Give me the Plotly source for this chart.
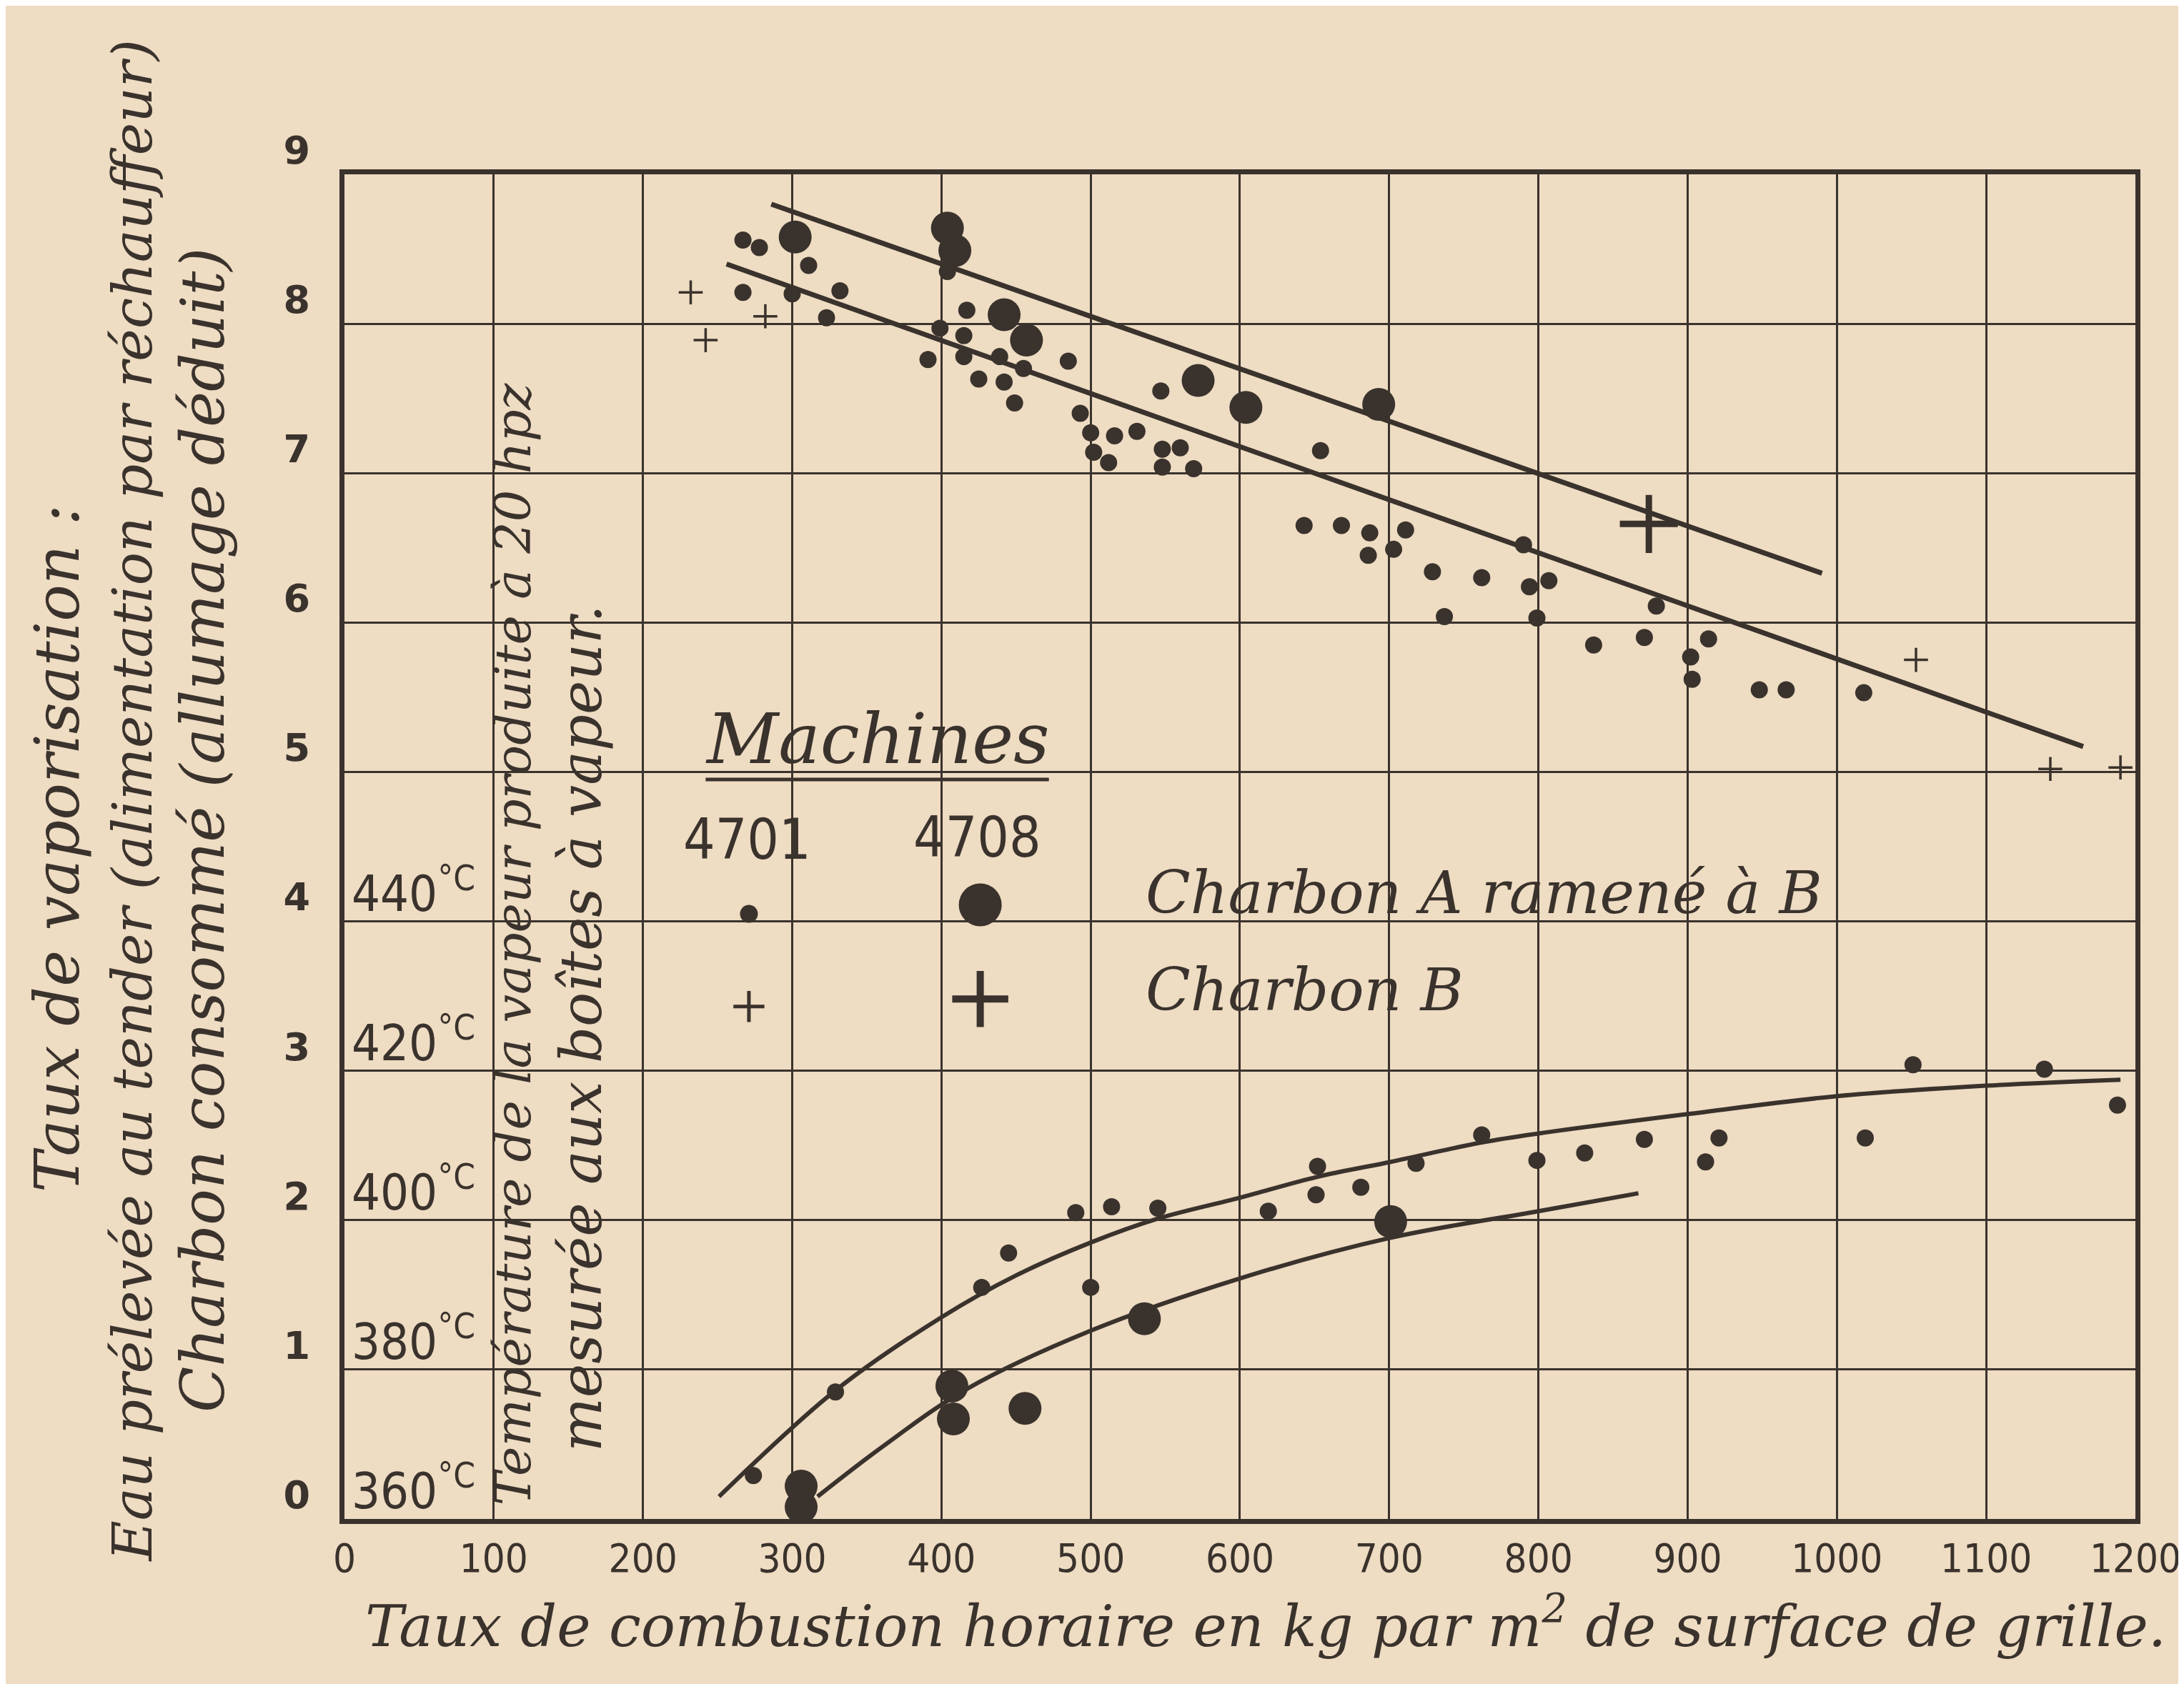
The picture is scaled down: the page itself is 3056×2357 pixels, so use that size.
import plotly.graph_objects as go

# ------------------------------------------------------------------
# DATA
# x : taux de combustion horaire (kg / m2 de grille)
# ------------------------------------------------------------------
x_tick_vals = [0, 100, 200, 300, 400, 500, 600, 700, 800, 900, 1000, 1100, 1200]
y_tick_vals = [0, 1, 2, 3, 4, 5, 6, 7, 8, 9]
temp_tick_vals = [360, 380, 400, 420, 440]

# Taux de vaporisation - machine 4701, charbon A ramené à B (small dots)
vap_4701_A_x = [267, 278, 311, 267, 300, 332, 323, 404, 417, 399, 415, 391, 415, 439,
                425, 442, 449, 455, 485, 493, 500, 502, 512, 516, 531, 548, 560, 548,
                569, 547, 654, 643, 668, 687, 686, 703, 711, 729, 762, 790, 794, 807,
                737, 799, 879, 837, 871, 914, 902, 903, 948, 966, 1018]
vap_4701_A_y = [8.56, 8.51, 8.39, 8.21, 8.20, 8.22, 8.04, 8.35, 8.09, 7.97, 7.92, 7.76,
                7.78, 7.78, 7.63, 7.61, 7.47, 7.70, 7.75, 7.40, 7.27, 7.14, 7.07, 7.25,
                7.28, 7.16, 7.17, 7.04, 7.03, 7.55, 7.15, 6.65, 6.65, 6.60, 6.45, 6.49,
                6.62, 6.34, 6.30, 6.52, 6.24, 6.28, 6.04, 6.03, 6.11, 5.85, 5.90, 5.89,
                5.77, 5.62, 5.55, 5.55, 5.53]

# Taux de vaporisation - machine 4708, charbon A ramené à B (large dots)
vap_4708_A_x = [302, 404, 409, 442, 457, 572, 604, 693]
vap_4708_A_y = [8.58, 8.64, 8.49, 8.06, 7.89, 7.62, 7.44, 7.46]

# Taux de vaporisation - machine 4701, charbon B (small crosses)
vap_4701_B_x = [232, 282, 242, 1053, 1143, 1190]
vap_4701_B_y = [8.21, 8.05, 7.89, 5.75, 5.02, 5.03]

# Taux de vaporisation - machine 4708, charbon B (large cross)
vap_4708_B_x = [874]
vap_4708_B_y = [6.66]

# Straight lines drawn through the vaporisation points
vap_line_4701_x = [256, 1165]
vap_line_4701_y = [8.40, 5.17]
vap_line_4708_x = [286, 990]
vap_line_4708_y = [8.80, 6.33]

# Température de la vapeur (deg C) - machine 4701 (small dots)
temp_4701_x = [274, 329, 427, 445, 490, 500, 514, 545, 619, 652, 651, 681, 718, 762,
               799, 831, 871, 912, 921, 1019, 1051, 1139, 1188]
temp_4701_c = [365.8, 377.0, 391.0, 395.6, 401.0, 391.0, 401.8, 401.6, 401.2, 407.2,
               403.4, 404.4, 407.6, 411.4, 408.0, 409.0, 410.8, 407.8, 411.0, 411.0,
               420.8, 420.2, 415.4]

# Température de la vapeur (deg C) - machine 4708 (large dots)
temp_4708_x = [306, 306, 407, 408, 456, 536, 701]
temp_4708_c = [364.4, 361.6, 377.8, 373.4, 374.8, 386.8, 399.8]

# Temperature curves as drawn on the chart
temp_curve_4701_x = [251, 329, 400, 450, 500, 545, 600, 652, 701, 762, 800, 900, 1000, 1100, 1190]
temp_curve_4701_c = [363.0, 377.2, 387.0, 392.6, 397.0, 400.2, 403.0, 405.8, 407.8,
                     410.4, 411.6, 414.2, 416.6, 418.0, 418.8]
temp_curve_4708_x = [317, 360, 417, 500, 600, 700, 800, 867]
temp_curve_4708_c = [363.0, 369.6, 377.4, 385.2, 392.2, 397.6, 401.2, 403.6]

# ------------------------------------------------------------------
# STYLE
# ------------------------------------------------------------------
PAPER = "#eedcc3"
INK = "#3a322c"
SCRIPT = "DejaVu Serif"
NARROW = "Liberation Sans Narrow, DejaVu Sans Condensed, Liberation Sans, sans-serif"

W, H = 3056, 2357
ML, MR, MT, MB = 474, 63, 236, 239

SMALL_DOT = 24
BIG_DOT = 46
SMALL_CROSS = 24
BIG_CROSS = 58

fig = go.Figure()

# fitted straight lines (vaporisation)
fig.add_trace(go.Scatter(x=vap_line_4701_x, y=vap_line_4701_y, mode="lines",
                         line=dict(color=INK, width=7), hoverinfo="skip"))
fig.add_trace(go.Scatter(x=vap_line_4708_x, y=vap_line_4708_y, mode="lines",
                         line=dict(color=INK, width=7), hoverinfo="skip"))

# temperature curves (secondary scale)
fig.add_trace(go.Scatter(x=temp_curve_4701_x, y=temp_curve_4701_c, yaxis="y2", mode="lines",
                         line=dict(color=INK, width=6, shape="spline", smoothing=1.0),
                         hoverinfo="skip"))
fig.add_trace(go.Scatter(x=temp_curve_4708_x, y=temp_curve_4708_c, yaxis="y2", mode="lines",
                         line=dict(color=INK, width=6, shape="spline", smoothing=1.0),
                         hoverinfo="skip"))

# points
def dots(x, y, size, name, axis="y"):
    return go.Scatter(x=x, y=y, yaxis=axis, mode="markers", cliponaxis=False, name=name,
                      marker=dict(symbol="circle", size=size, color=INK, opacity=1,
                                  line=dict(width=0)))

def crosses(x, y, size, lw, name):
    return go.Scatter(x=x, y=y, mode="markers", cliponaxis=False, name=name,
                      marker=dict(symbol="cross-thin", size=size, color=INK, opacity=1,
                                  line=dict(width=lw, color=INK)))

fig.add_trace(dots(vap_4701_A_x, vap_4701_A_y, SMALL_DOT, "4701 - Charbon A ramené à B"))
fig.add_trace(dots(vap_4708_A_x, vap_4708_A_y, BIG_DOT, "4708 - Charbon A ramené à B"))
fig.add_trace(crosses(vap_4701_B_x, vap_4701_B_y, SMALL_CROSS, 3.5, "4701 - Charbon B"))
fig.add_trace(crosses(vap_4708_B_x, vap_4708_B_y, BIG_CROSS, 9, "4708 - Charbon B"))
fig.add_trace(dots(temp_4701_x, temp_4701_c, SMALL_DOT, "4701 - température", axis="y2"))
fig.add_trace(dots(temp_4708_x, temp_4708_c, BIG_DOT, "4708 - température", axis="y2"))

# legend symbols (drawn block "Machines")
fig.add_trace(dots([271], [4.05], 25, "légende 4701 A"))
fig.add_trace(dots([426], [4.11], 60, "légende 4708 A"))
fig.add_trace(crosses([271], [3.43], 31, 5, "légende 4701 B"))
fig.add_trace(crosses([426], [3.48], 56, 10, "légende 4708 B"))

annotations = []

# temperature scale labels inside the plot
for t in temp_tick_vals:
    annotations.append(dict(x=4, y=t, xref="x", yref="y2", xanchor="left", yanchor="bottom",
                            yshift=-4, showarrow=False,
                            text=f"{t}<sup>°C</sup>",
                            font=dict(family=NARROW, size=70, color=INK)))

# Machines legend block
annotations += [
    dict(x=357, y=5.22, xref="x", yref="y", text="Machines", showarrow=False,
         xanchor="center", yanchor="middle",
         font=dict(family=SCRIPT, style="italic", size=98, color=INK)),
    dict(x=270, y=4.55, xref="x", yref="y", text="4701", showarrow=False,
         xanchor="center", yanchor="middle",
         font=dict(family=NARROW, size=78, color=INK)),
    dict(x=424, y=4.56, xref="x", yref="y", text="4708", showarrow=False,
         xanchor="center", yanchor="middle",
         font=dict(family=NARROW, size=78, color=INK)),
    dict(x=536, y=4.19, xref="x", yref="y", text="Charbon A ramené à B", showarrow=False,
         xanchor="left", yanchor="middle",
         font=dict(family=SCRIPT, style="italic", size=82, color=INK)),
    dict(x=536, y=3.54, xref="x", yref="y", text="Charbon B", showarrow=False,
         xanchor="left", yanchor="middle",
         font=dict(family=SCRIPT, style="italic", size=82, color=INK)),
]

# vertical text inside the plot (temperature description)
annotations += [
    dict(x=113, y=0.08, xref="x", yref="y", textangle=-90, xanchor="center", yanchor="bottom",
         text="Température de la vapeur produite à 20 hpz", showarrow=False,
         font=dict(family=SCRIPT, style="italic", size=70, color=INK)),
    dict(x=159, y=0.44, xref="x", yref="y", textangle=-90, xanchor="center", yanchor="bottom",
         text="mesurée aux boîtes à vapeur.", showarrow=False,
         font=dict(family=SCRIPT, style="italic", size=80, color=INK)),
]

# y-axis titles (three rotated lines)
def px_to_paper_x(px):
    return (px - ML) / (W - ML - MR)

def px_to_paper_y(py):
    return (H - MB - py) / (H - MT - MB)

annotations += [
    dict(x=px_to_paper_x(70), y=px_to_paper_y(1180), xref="paper", yref="paper", textangle=-90,
         xanchor="center", yanchor="middle",
         text="Taux de vaporisation :", showarrow=False,
         font=dict(family=SCRIPT, style="italic", size=86, color=INK)),
    dict(x=px_to_paper_x(175), y=px_to_paper_y(1113), xref="paper", yref="paper", textangle=-90,
         xanchor="center", yanchor="middle",
         text="Eau prélevée au tender (alimentation par réchauffeur)", showarrow=False,
         font=dict(family=SCRIPT, style="italic", size=77, color=INK)),
    dict(x=px_to_paper_x(275), y=px_to_paper_y(1154), xref="paper", yref="paper", textangle=-90,
         xanchor="center", yanchor="middle",
         text="Charbon consommé (allumage déduit)", showarrow=False,
         font=dict(family=SCRIPT, style="italic", size=84, color=INK)),
    # x-axis title
    dict(x=px_to_paper_x(1770), y=px_to_paper_y(2262), xref="paper", yref="paper",
         xanchor="center", yanchor="middle",
         text="Taux de combustion horaire en kg par m<sup>2</sup> de surface de grille.",
         showarrow=False, font=dict(family=SCRIPT, style="italic", size=80, color=INK)),
]

shapes = [
    dict(type="line", xref="x", yref="y", x0=242, x1=472, y0=4.95, y1=4.95,
         line=dict(color=INK, width=5)),
]

fig.update_layout(
    width=W, height=H,
    margin=dict(l=ML, r=MR, t=MT, b=MB),
    paper_bgcolor=PAPER, plot_bgcolor=PAPER,
    showlegend=False,
    annotations=annotations,
    shapes=shapes,
    xaxis=dict(range=[0, 1200.01], tickvals=x_tick_vals, ticktext=[str(v) for v in x_tick_vals],
               showgrid=True, gridcolor=INK, gridwidth=2.5, zeroline=False,
               showline=True, linecolor=INK, linewidth=7, mirror=True,
               ticks="", ticklabelstandoff=0, ticklabeloverflow="allow",
               tickfont=dict(family=NARROW, size=56, color=INK)),
    yaxis=dict(range=[0, 9], tickvals=y_tick_vals, ticktext=[str(v) for v in y_tick_vals],
               showgrid=True, gridcolor=INK, gridwidth=2.5, zeroline=False,
               showline=True, linecolor=INK, linewidth=7, mirror=True,
               ticks="", ticklabelstandoff=30, ticklabelshift=-34,
               ticklabeloverflow="allow",
               tickfont=dict(family="DejaVu Sans", weight="bold", size=54, color=INK)),
    yaxis2=dict(range=[360, 540], overlaying="y", visible=False, showgrid=False),
)

fig.write_html("out.html")
